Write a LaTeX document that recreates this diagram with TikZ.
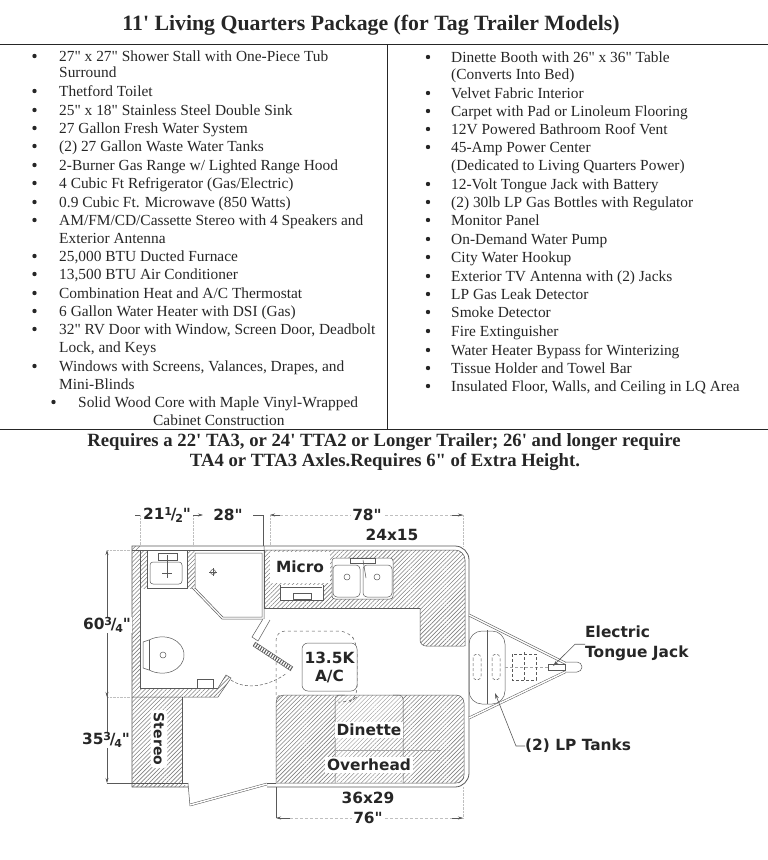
\documentclass[tikz,border=0pt]{standalone}
\usepackage{fontspec}
\setmainfont[Ligatures=TeXOff]{Liberation Serif}
\newfontfamily\plotfont{DejaVu Sans}
\usetikzlibrary{patterns.meta,positioning,arrows.meta}
\newcommand{\dimfrac}[2]{\raisebox{.45ex}{\fontsize{11}{11}\selectfont #1}\kern-.08em/\kern-.08em\raisebox{-.3ex}{\fontsize{11}{11}\selectfont #2}}
\begin{document}
\begin{tikzpicture}
    [x=1pt,y=-1pt,
    % Styles
    list text/.style={anchor=base west,inner sep=0pt,text=inkcolor,font=\fontsize{15.4}{16}\selectfont},
    heading text/.style={inner sep=0pt,text=inkcolor,font=\fontsize{18.7}{20}\selectfont\bfseries},
    plot text/.style={inner sep=1pt,text=inkcolor,font=\plotfont\fontsize{15.4}{17}\selectfont\bfseries},
    label text/.style={plot text,fill=white},
    rule line/.style={inkcolor,line width=.9pt},
    wall line/.style={linecolor,line width=.8pt},
    thin line/.style={linecolor,line width=.5pt},
    extension line/.style={gray!50,line width=.4pt,densely dotted},
    dim line/.style={linecolor,line width=.5pt,-{Stealth[length=5pt,width=3pt]}},
    leader line/.style={linecolor,line width=.6pt,-{Stealth[length=6pt,width=3.5pt]}},
    hatch/.style={pattern={Lines[angle=45,distance=3pt,line width=.6pt]},pattern color=gray},
    light hatch/.style={pattern={Lines[angle=45,distance=3pt,line width=.45pt]},pattern color=gray!85}]

    % Colors
    \colorlet{inkcolor}{black!85}
    \colorlet{linecolor}{black!65}

    \useasboundingbox (0,0) rectangle (768,860);

    % Title and rules
    \node[heading text,font=\fontsize{21.8}{24}\selectfont\bfseries] (title) at (371,25) {11' Living Quarters Package (for Tag Trailer Models)};
    \draw[rule line] (0,44) -- (768,44);
    \draw[rule line] (0,429.5) -- (768,429.5);
    \draw[rule line] (387.5,44) -- (387.5,429.5);

    % Left list
    \foreach \y/\itemtext [count=\i] in {
      56/{27" x 27" Shower Stall with One-Piece Tub},
      91/{Thetford Toilet},
      110/{25" x 18" Stainless Steel Double Sink},
      128/{27 Gallon Fresh Water System},
      146/{(2) 27 Gallon Waste Water Tanks},
      165/{2-Burner Gas Range w/ Lighted Range Hood},
      183/{4 Cubic Ft Refrigerator (Gas/Electric)},
      202/{0.9 Cubic Ft. Microwave (850 Watts)},
      220/{AM/FM/CD/Cassette Stereo with 4 Speakers and},
      256/{25,000 BTU Ducted Furnace},
      274/{13,500 BTU Air Conditioner},
      293/{Combination Heat and A/C Thermostat},
      311/{6 Gallon Water Heater with DSI (Gas)},
      329/{32" RV Door with Window, Screen Door, Deadbolt},
      366/{Windows with Screens, Valances, Drapes, and}}
    {
      \fill[inkcolor] (34.5,\y) circle [radius=2.2];
      \node[list text] (left\i) at (59,\y+5) {\itemtext};
    }
    \foreach \y/\itemtext [count=\i] in {
      72/{Surround},
      238/{Exterior Antenna},
      347/{Lock, and Keys},
      384/{Mini-Blinds}}
    \node[list text] (leftmore\i) at (59,\y+5) {\itemtext};
    \fill[inkcolor] (53.5,402) circle [radius=2.2];
    \node[list text] (wood) at (78,407) {Solid Wood Core with Maple Vinyl-Wrapped};
    \node[list text] (cabinet) at (153,425) {Cabinet Construction};

    % Right list
    \foreach \y/\itemtext [count=\i] in {
      57/{Dinette Booth with 26" x 36" Table},
      93/{Velvet Fabric Interior},
      111/{Carpet with Pad or Linoleum Flooring},
      129/{12V Powered Bathroom Roof Vent},
      147/{45-Amp Power Center},
      184/{12-Volt Tongue Jack with Battery},
      202/{(2) 30lb LP Gas Bottles with Regulator},
      220/{Monitor Panel},
      239/{On-Demand Water Pump},
      257/{City Water Hookup},
      276/{Exterior TV Antenna with (2) Jacks},
      294/{LP Gas Leak Detector},
      312/{Smoke Detector},
      331/{Fire Extinguisher},
      350/{Water Heater Bypass for Winterizing},
      368/{Tissue Holder and Towel Bar},
      386/{Insulated Floor, Walls, and Ceiling in LQ Area}}
    {
      \fill[inkcolor] (428,\y) circle [radius=2.2];
      \node[list text] (right\i) at (451,\y+5) {\itemtext};
    }
    \node[list text] (rightmore1) at (451,79) {(Converts Into Bed)};
    \node[list text] (rightmore2) at (451,170) {(Dedicated to Living Quarters Power)};

    % Requirement text
    \node[heading text] (require1) at (384,442) {Requires a 22' TA3, or 24' TTA2 or Longer Trailer; 26' and longer require};
    \node[heading text] (require2) at (385,462) {TA4 or TTA3 Axles.Requires 6" of Extra Height.};

    % Hatched areas
    \path[hatch] (132,546) -- (140,546) -- (140,688) -- (218,688) -- (226,675) -- (231,678) -- (218,697) -- (182,697) -- (182,783) -- (188,787) -- (132,787) -- cycle;
    \path[hatch] (140,550) rectangle (195,588);
    \path[hatch] (264,608) -- (264,550) [rounded corners=10pt] -- (465,550) [sharp corners] -- (465,646) [rounded corners=6pt] -- (420,646) [sharp corners] -- (420,608) -- cycle;
    \path[hatch,rounded corners=3pt] (276,695) rectangle (335,783);
    \path[light hatch,rounded corners=5pt] (335,695) rectangle (403,783);
    \path[hatch] (403,783) -- (403,695) [rounded corners=5pt] -- (464,695) -- (464,783) [sharp corners] -- cycle;

    % Outer walls
    \draw[wall line] (188,787) -- (132,787) -- (132,546) [rounded corners=14pt] -- (469,546) -- (469,787) [sharp corners] -- (267,787);
    \draw[thin line] (140,550) -- (140,688) -- (218,688);
    \draw[thin line] (132,550) -- (264,550);
    \draw[thin line] (132,697) -- (218,697) -- (231,678) -- (226,675) -- (218,688);
    \draw[thin line] (182,697) -- (182,783) -- (188,783);
    \draw[thin line] (132,783) -- (182,783);
    \draw[thin line] (267,783) -- (276,783);
    \draw[thin line] (264,550) -- (264,608) -- (420,608);
    \draw[thin line] (420,608) [rounded corners=6pt] -- (420,646) [sharp corners] -- (464,646);
    \draw[thin line] (264,550) [rounded corners=10pt] -- (465,550) [sharp corners] -- (465,646);
    \draw[thin line,rounded corners=8pt] (276,783) -- (276,695) -- (464,695) -- (464,783) -- (276,783);
    \draw[thin line] (335,783) [rounded corners=4pt] -- (335,695) -- (345,695);
    \draw[thin line] (403,783) [rounded corners=4pt] -- (403,695) -- (393,695);
    \draw[gray!70,line width=.4pt] (336,750) -- (440,750);

    % Door
    \draw[thin line] (188,783) -- (190,806);
    \draw[thin line,double=white,double distance=1.5pt] (190,805) -- (267,784);

    % Shower and bathroom sink
    \draw[thin line,fill=white] (195,553) -- (262,553) -- (262,617) -- (223,617) -- (195,588) -- cycle;
    \draw[thin line] (192,588) -- (222,619) -- (264,619) -- (264,546);
    \draw[thin line] (213,572) circle [radius=2.5];
    \draw[thin line] (213,568) -- (213,576) (209,572) -- (217,572);
    \draw[thin line,fill=white] (147,550) rectangle (187,588);
    \draw[thin line,rounded corners=3pt] (150,562) rectangle (182,584);
    \draw[thin line] (158,553) rectangle (177,560);
    \draw[thin line] (167,555) -- (167,578) (162,573) -- (172,573);

    % Kitchen
    \fill[white] (270,552) rectangle (330,583);
    \draw[thin line,fill=white] (280,585) -- (280,600) -- (323,600) -- (323,585);
    \draw[thin line] (281,587) -- (322,587);
    \draw[thin line] (293,593) rectangle (311,599);
    \draw[thin line,fill=white,rounded corners=3pt] (332,558) rectangle (393,599);
    \draw[thin line,rounded corners=4pt] (333,565) rectangle (360,597);
    \draw[thin line,rounded corners=4pt] (363,565) rectangle (392,597);
    \draw[thin line] (350,558) rectangle (375,563);
    \draw[thin line] (363,560) -- (366,578);
    \draw[thin line] (347,577) circle [radius=3];
    \draw[thin line] (377,577) circle [radius=3];

    % Toilet
    \draw[thin line,fill=white] (149,640) .. controls (165,632) and (184,640) .. (184,655) .. controls (184,670) and (165,678) .. (149,670) -- (143,668) -- (143,642) -- cycle;
    \draw[thin line] (149,640) -- (149,670);
    \draw[thin line] (163,655) circle [radius=3];

    % Bathroom wall and folding door
    \draw[thin line,fill=white] (197,688) -- (197,679) -- (213,679) -- (213,688);
    \draw[thin line,fill=white] (263,619) -- (252,637) -- (258,641) -- (270,620);
    \draw[linecolor,line width=4pt,dash pattern=on 1pt off 1.6pt] (254,644) -- (292,669);
    \draw[thin line] (255,642) -- (293,667) (253,646) -- (291,671);
    \draw[thin line,densely dashed] (231,680) .. controls (245,690) and (268,687) .. (287,673);

    % Air conditioner
    \draw[thin line,dashed,rounded corners=9pt] (276,695) -- (276,631) -- (348,631) -- (357,643) -- (357,697) -- (350,702) -- (338,702);
    \draw[thin line,fill=white,rounded corners=6pt] (302,643) rectangle (357,691);
    \node[plot text,align=center] (ac) at (329.5,667) {13.5K\\[1pt]A/C};

    % Tongue and tanks
    \draw[thin line,double=white,double distance=1.5pt] (469,615) -- (565,663);
    \draw[thin line,double=white,double distance=1.5pt] (469,718) -- (565,672);
    \draw[thin line,rounded corners=13pt] (469,631) -- (505,631) -- (505,704) -- (469,704) -- cycle;
    \draw[wall line] (487,630) -- (487,704);
    \draw[thin line,densely dashed,rounded corners=4pt] (473,654) rectangle (481,680);
    \draw[thin line,densely dashed,rounded corners=4pt] (492,654) rectangle (500,680);
    \draw[gray!70,line width=.4pt,densely dashed] (505,667) -- (548,667);
    \draw[thin line,densely dashed] (512,654) rectangle (536,680);
    \draw[thin line,densely dashed] (524,652) -- (524,682);
    \draw[wall line] (548,670) -- (565,670);
    \draw[thin line] (548,664) rectangle (565,670);
    \draw[thin line] (565,662) -- (577,662) arc [start angle=-90, end angle=90, radius=5] -- (565,672);

    % Leaders and their labels
    \node[plot text,anchor=west,inner sep=0pt] (electric) at (585,632) {Electric};
    \node[plot text,anchor=west,inner sep=0pt] (jack) at (585,653) {Tongue Jack};
    \node[plot text,anchor=west,inner sep=0pt] (tanks) at (525,746) {(2) LP Tanks};
    \coordinate (jacktip) at (553,666);
    \coordinate (tanktip) at (495,693);
    \draw[leader line] (jack.north west) ++(0,-1) -- ++(-10,0) -- (jacktip);
    \draw[leader line] (tanks.west) -- ++(-9,0) -- (tanktip);

    % Extension lines
    \foreach \x in {140,193,270,463}
    \draw[extension line] (\x,515) -- (\x,546);
    \draw[extension line] (463,787) -- (463,818);
    \draw[extension line] (107,550) -- (132,550);
    \draw[extension line] (107,697) -- (132,697);
    \draw[linecolor,line width=.5pt] (107,783) -- (132,783);

    % Dimensions
    \coordinate (top1) at (135,515);
    \coordinate (top2) at (203,515);
    \coordinate (top3) at (253,515);
    \coordinate (top4) at (270,515);
    \coordinate (top5) at (463,515);
    \coordinate (side1) at (107,550);
    \coordinate (side2) at (107,697);
    \coordinate (side3) at (107,783);
    \coordinate (low1) at (276,818);
    \coordinate (low2) at (463,818);
    \draw[thin line] (top1) -- (140,515);
    \draw[dim line] (193,515) -- (top2);
    \draw[thin line] (top3) -- (263,515) -- (263,546);
    \draw[dim line] (280,515) -- (top4);
    \draw[gray!50,line width=.4pt,densely dashed] (280,515) -- (top5);
    \draw[dim line] (452,515) -- (top5);
    \draw[dim line] (107,700) -- (side1);
    \draw[dim line] (107,694) -- (side2);
    \draw[dim line] (107,700) -- (side3);
    \draw[thin line] (276,787) -- (276,818);
    \draw[dim line] (290,818) -- (low1);
    \draw[gray!50,line width=.4pt,densely dashed] (290,818) -- (low2);
    \draw[dim line] (452,818) -- (low2);

    % Dimension labels
    \node[label text] (d1) at (167,515) {21\dimfrac{1}{2}"};
    \node[label text] (d2) at (228,515) {28"};
    \node[label text] (d3) at (367,515) {78"};
    \node[label text] (d4) at (392,535) {24x15};
    \node[label text] (d5) at (107,625) {60\dimfrac{3}{4}"};
    \node[label text] (d6) at (106,740) {35\dimfrac{3}{4}"};
    \node[label text] (d7) at (368,798) {36x29};
    \node[label text] (d8) at (368,818) {76"};

    % Plan labels
    \node[label text,inner sep=2pt] (micro) at (300,567) {Micro};
    \node[label text,rotate=-90,font=\plotfont\fontsize{14}{16}\selectfont\bfseries,inner sep=3pt,rounded corners=4pt] (stereo) at (159,739) {Stereo};
    \node[label text,inner sep=2pt] (dinette) at (369,730) {Dinette};
    \node[label text,inner sep=2pt] (overhead) at (369,765) {Overhead};
\end{tikzpicture}
\end{document}
